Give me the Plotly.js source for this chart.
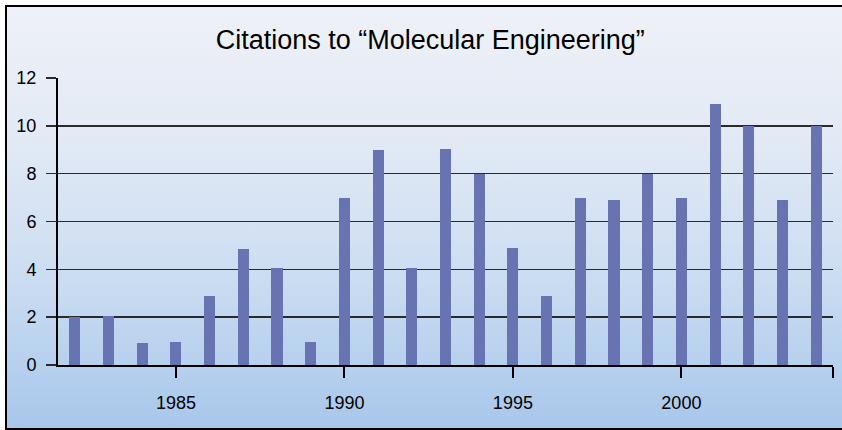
<!DOCTYPE html>
<html>
<head>
<meta charset="utf-8">
<script src="https://cdn.plot.ly/plotly-3.0.1.min.js"></script>
<style>
  html, body { margin: 0; padding: 0; background: #ffffff; }
  #wrap { position: relative; width: 842px; height: 430px; overflow: hidden; }
  #bg { position: absolute; left: 5px; top: 5px; width: 837px; height: 421px;
        border-left: 2px solid #000; border-top: 2px solid #000; border-bottom: 2px solid #000;
        background: linear-gradient(to bottom, #eef1f7 0%, #e3eaf5 30%, #cddef2 62%, #a8c7eb 100%); }
  #chart { position: absolute; left: 0; top: 0; width: 842px; height: 430px; }
</style>
</head>
<body>
<div id="wrap"><div id="bg"></div><div id="chart"></div></div>
<script>
const years = [1982, 1983, 1984, 1985, 1986, 1987, 1988, 1989, 1990, 1991, 1992, 1993,
               1994, 1995, 1996, 1997, 1998, 1999, 2000, 2001, 2002, 2003, 2004];
const citations = [2, 2.03, 0.9, 0.95, 2.87, 4.87, 4.07, 0.97, 7, 8.98, 4.07, 9.03,
                   7.97, 4.9, 2.9, 7, 6.92, 8, 7, 10.9, 10, 6.92, 10];
const xTickVals = [1985, 1990, 1995, 2000, 2004.5];
const xTickText = ['1985', '1990', '1995', '2000', ''];
const yTickVals = [0, 2, 4, 6, 8, 10, 12];
const titleText = 'Citations to \u201cMolecular Engineering\u201d';

const fontFam = '"Liberation Sans", Arial, Helvetica, sans-serif';

Plotly.newPlot('chart', [{
  type: 'bar',
  x: years,
  y: citations,
  width: 0.33,
  marker: { color: '#6873b1', line: { width: 0 } },
  hoverinfo: 'x+y'
}], {
  width: 842, height: 430,
  paper_bgcolor: 'rgba(0,0,0,0)',
  plot_bgcolor: 'rgba(0,0,0,0)',
  margin: { l: 58, r: 9, t: 77.5, b: 65 },
  showlegend: false,
  title: {
    text: titleText,
    font: { family: fontFam, size: 27, color: '#000' },
    xref: 'container', x: 0.511, xanchor: 'center',
    yref: 'container', y: 0.907, yanchor: 'middle'
  },
  xaxis: {
    range: [1981.5, 2004.5],
    tickmode: 'array', tickvals: xTickVals, ticktext: xTickText,
    ticks: 'outside', ticklen: 11, tickwidth: 2, tickcolor: '#000',
    showgrid: false, zeroline: false,
    showline: true, linecolor: '#000', linewidth: 2,
    tickfont: { family: fontFam, size: 18, color: '#000' },
    ticklabelstandoff: 9
  },
  yaxis: {
    range: [0, 12],
    tickmode: 'array', tickvals: yTickVals,
    ticks: 'outside', ticklen: 10, tickwidth: 1.5, tickcolor: '#2a2a2a',
    showgrid: true, gridcolor: '#2a2a2a', gridwidth: 1.5,
    zeroline: false,
    showline: true, linecolor: '#000', linewidth: 2,
    tickfont: { family: fontFam, size: 18, color: '#000' },
    ticklabelstandoff: 6
  },
  bargap: 0
}, { displayModeBar: false, staticPlot: true });
</script>
</body>
</html>
